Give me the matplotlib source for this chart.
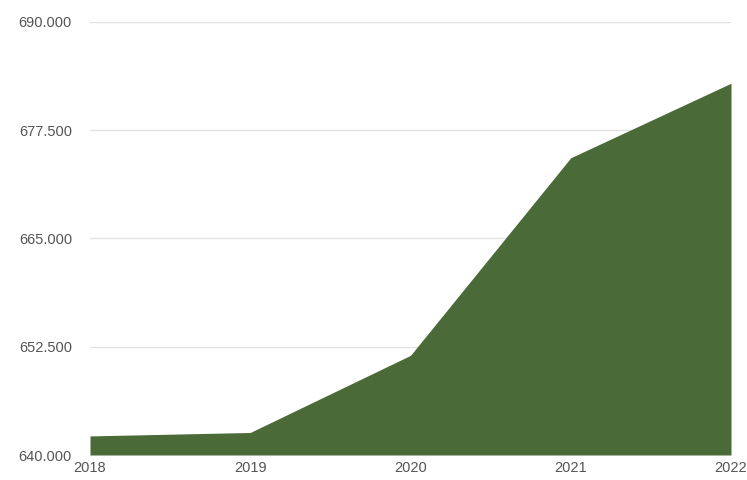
import matplotlib
matplotlib.use("Agg")
import matplotlib.pyplot as plt
from matplotlib.ticker import FuncFormatter, FixedLocator

plt.rcParams["font.family"] = ["Liberation Sans", "DejaVu Sans"]

years = [2018, 2019, 2020, 2021, 2022]
values = [642200, 642600, 651500, 674300, 682900]
y_ticks = [640000, 652500, 665000, 677500, 690000]

fig = plt.figure(figsize=(7.47, 4.80), dpi=100)
ax = fig.add_axes([90/747, 1 - 455/480, (731-90)/747, (455-21.7)/480])

ax.fill_between(years, values, y_ticks[0], color="#4a6a37", linewidth=0, zorder=2)
ax.set_xlim(years[0], years[-1])
ax.set_ylim(y_ticks[0], y_ticks[-1])
ax.yaxis.set_major_locator(FixedLocator(y_ticks))
ax.xaxis.set_major_locator(FixedLocator(years))
ax.yaxis.set_major_formatter(FuncFormatter(lambda v, p: f"{v:,.0f}".replace(",", ".")))
ax.grid(axis="y", color="#e3e3e3", linewidth=1, zorder=0)
ax.grid(axis="x", visible=False)
for s in ax.spines.values():
    s.set_visible(False)
ax.tick_params(axis="both", length=0, labelsize=10.5, colors="#555555")
ax.tick_params(axis="y", pad=13)
ax.tick_params(axis="x", pad=4)
ax.set_axisbelow(True)

fig.savefig("out.png", dpi=100)
